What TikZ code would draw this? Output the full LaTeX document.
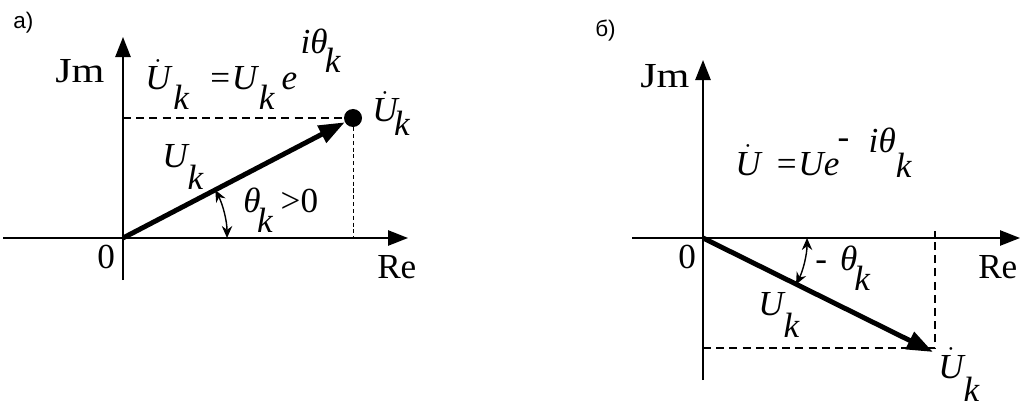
\documentclass[tikz,border=0pt]{standalone}
\usepackage{fontspec}
\setmainfont{Liberation Serif}
\newfontfamily\labelfont{Liberation Sans}
\usepackage{graphicx}
\usetikzlibrary{arrows.meta}
\newcommand{\wider}[2][1.2]{\scalebox{#1}[1]{#2}}
\newcommand{\lowk}[1]{\raisebox{-#1em}{k}}
\newcommand{\Ud}{$\dot{\hbox{\itshape U}}$}
\tikzset{
  axis/.style={line width=1.4pt,-{Triangle[length=5mm,width=3.8mm]}},
  vec/.style={line width=3.5pt,-{Triangle[length=6.5mm,width=4.6mm]}},
  proj/.style={line width=1.1pt,dash pattern=on 2mm off 1.3mm},
  fineproj/.style={line width=.6pt,dash pattern=on 1mm off .7mm},
  ang/.style={line width=1pt,{Stealth[length=3mm,width=2.6mm]}-{Stealth[length=3mm,width=2.6mm]}},
  lbl/.style={inner sep=0pt,anchor=base west,font=\fontsize{25}{30}\selectfont},
  mth/.style={lbl,font=\fontsize{25}{30}\selectfont\itshape},
  dot/.style={circle,fill,inner sep=0pt,minimum size=4.5mm},
}
\begin{document}
\begin{tikzpicture}[x=0.025cm,y=0.025cm]
  \useasboundingbox (0,0) rectangle (1024,409);
  % a)
  \coordinate (Oa) at (123,171);
  \coordinate (ReA0) at (3,171);
  \coordinate (ReA1) at (408,171);
  \coordinate (JmA0) at (123,129);
  \coordinate (JmA1) at (123,372);
  \node[dot] (Pa) at (353,291) {};
  \draw[axis] (ReA0) -- (ReA1);
  \draw[axis] (JmA0) -- (JmA1);
  \draw[proj] (Oa |- Pa) -- (Pa);
  \draw[fineproj] (Pa) -- (Pa |- Oa);
  \draw[vec] (Oa) -- (Pa);
  \draw[ang] ([shift={(0:2.6cm)}]Oa) arc[start angle=0,end angle=27.5,radius=2.6cm];
  \node[lbl] (capA) at (13,380) {\labelfont\fontsize{16}{18}\selectfont а)};
  \node[lbl] (JmA) at (55,326) {\wider{Jm}};
  \node[lbl] (ReA) at (377,131) {Re};
  \node[lbl] (zeroA) at (97,141) {0};
  \node[mth] (formA) at (145,319) {\Ud\kern.08em\lowk{.55}\hspace{.54em}=U\kern.05em\lowk{.55}\kern.2em e\kern.1em\raisebox{1.05em}{iθ}\kern-.08em\raisebox{.51em}{k}};
  \node[mth] (tipA) at (372,287) {\Ud\kern-.1em\lowk{.37}};
  \node[mth] (modA) at (162,242) {U\lowk{.65}};
  \node[mth] (angA) at (243,197) {θ\kern-.1em\lowk{.57}\hspace{.23em}\upshape>0};
  % b)
  \coordinate (Ob) at (703,171);
  \coordinate (ReB0) at (632,171);
  \coordinate (ReB1) at (1020,171);
  \coordinate (JmB0) at (703,29);
  \coordinate (JmB1) at (703,349);
  \coordinate (Pb) at (933,57);
  \coordinate (Cb) at (935,61);
  \coordinate (Tb) at (935,178);
  \draw[axis] (ReB0) -- (ReB1);
  \draw[axis] (JmB0) -- (JmB1);
  \draw[proj] (Ob |- Cb) -- (Cb) -- (Tb);
  \draw[vec] (Ob) -- (Pb);
  \draw[ang] ([shift={(0:2.6cm)}]Ob) arc[start angle=0,end angle=-26.6,radius=2.6cm];
  \node[lbl] (capB) at (595,372) {\labelfont\fontsize{16}{18}\selectfont б)};
  \node[lbl] (JmB) at (640,321) {\wider{Jm}};
  \node[lbl] (ReB) at (978,131) {Re};
  \node[lbl] (zeroB) at (678,141) {0};
  \node[mth] (formB) at (735,234) {\Ud\hspace{.4em}=Ue\kern-.05em\raisebox{.76em}{\upshape -}\hspace{.55em}\raisebox{.65em}{iθ}\raisebox{-.08em}{k}};
  \node[mth] (angB) at (815,139) {\upshape -\hspace{.37em}\itshape θ\kern-.08em\lowk{.57}};
  \node[mth] (modB) at (758,94) {U\lowk{.65}};
  \node[mth] (tipB) at (938,31) {\Ud\lowk{.68}};
\end{tikzpicture}
\end{document}
